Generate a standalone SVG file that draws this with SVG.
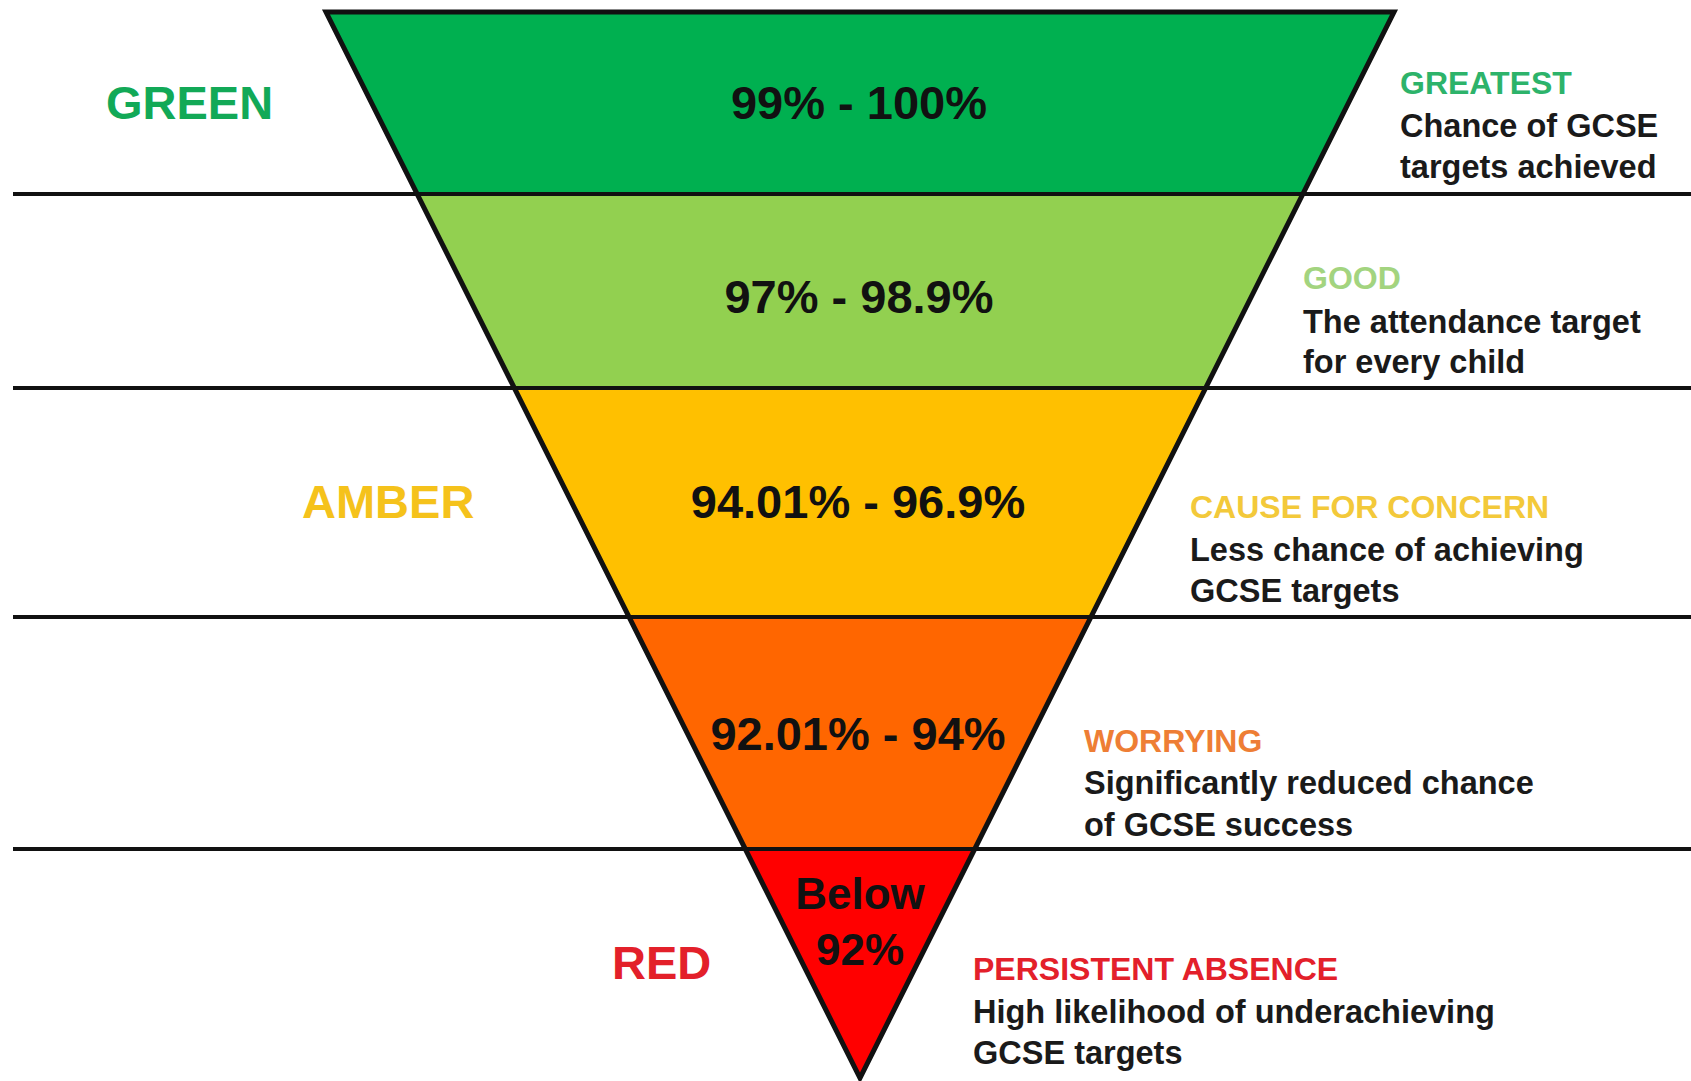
<svg xmlns="http://www.w3.org/2000/svg" width="1691" height="1081" viewBox="0 0 1691 1081">
<style>
  text { font-family: "Liberation Sans", Arial, sans-serif; font-weight: bold; }
  .big { font-size: 47px; }
  .pct { font-size: 47px; fill: #111; text-anchor: middle; }
  .lbl { font-size: 32px; }
  .body { font-size: 32.5px; fill: #1a1a1a; }
  .sep { stroke: #111; stroke-width: 4; }
  .band { stroke: none; }
</style>
<rect x="0" y="0" width="1691" height="1081" fill="#ffffff"/>

<g id="band-green">
  <polygon class="band" points="326,12 1394,12 1302.8,194 417.2,194" fill="#00B050"/>
  <text class="pct" x="859" y="119">99% - 100%</text>
</g>
<g id="band-lightgreen">
  <polygon class="band" points="417.2,194 1302.8,194 1205.7,388 514.3,388" fill="#92D050"/>
  <text class="pct" x="859" y="313">97% - 98.9%</text>
</g>
<g id="band-amber">
  <polygon class="band" points="514.3,388 1205.7,388 1090.9,617 629.1,617" fill="#FFC000"/>
  <text class="pct" x="858" y="518">94.01% - 96.9%</text>
</g>
<g id="band-orange">
  <polygon class="band" points="629.1,617 1090.9,617 974.7,849 745.3,849" fill="#FF6600"/>
  <text class="pct" x="858" y="750">92.01% - 94%</text>
</g>
<g id="band-red">
  <polygon class="band" points="745.3,849 974.7,849 860,1078" fill="#FF0000"/>
  <text class="pct" x="860" y="909" style="font-size:44px">Below</text>
  <text class="pct" x="860" y="965" style="font-size:44px">92%</text>
</g>

<g id="separators">
  <line class="sep" x1="13" y1="194" x2="1691" y2="194"/>
  <line class="sep" x1="13" y1="388" x2="1691" y2="388"/>
  <line class="sep" x1="13" y1="617" x2="1691" y2="617"/>
  <line class="sep" x1="13" y1="849" x2="1691" y2="849"/>
  <polygon points="326,12 1394,12 860,1078" fill="none" stroke="#111" stroke-width="5" stroke-linejoin="miter"/>
</g>

<g id="label-green">
  <text class="big" x="106" y="119" fill="#12A957">GREEN</text>
</g>
<g id="label-amber">
  <text class="big" x="302" y="518" fill="#F5C21B">AMBER</text>
</g>
<g id="label-red">
  <text class="big" x="612" y="979" fill="#E3202A">RED</text>
</g>

<g id="desc-greatest">
  <text class="lbl" x="1400" y="94" fill="#2DB36A">GREATEST</text>
  <text class="body" x="1400" y="137">Chance of GCSE</text>
  <text class="body" x="1400" y="178">targets achieved</text>
</g>
<g id="desc-good">
  <text class="lbl" x="1303" y="289" fill="#A3D47F">GOOD</text>
  <text class="body" x="1303" y="333">The attendance target</text>
  <text class="body" x="1303" y="373">for every child</text>
</g>
<g id="desc-concern">
  <text class="lbl" x="1190" y="518" fill="#F3C93A">CAUSE FOR CONCERN</text>
  <text class="body" x="1190" y="561">Less chance of achieving</text>
  <text class="body" x="1190" y="602">GCSE targets</text>
</g>
<g id="desc-worrying">
  <text class="lbl" x="1084" y="752" fill="#EE7E35">WORRYING</text>
  <text class="body" x="1084" y="794">Significantly reduced chance</text>
  <text class="body" x="1084" y="836">of GCSE success</text>
</g>
<g id="desc-persistent">
  <text class="lbl" x="973" y="980" fill="#E3202A">PERSISTENT ABSENCE</text>
  <text class="body" x="973" y="1023">High likelihood of underachieving</text>
  <text class="body" x="973" y="1064">GCSE targets</text>
</g>
</svg>
